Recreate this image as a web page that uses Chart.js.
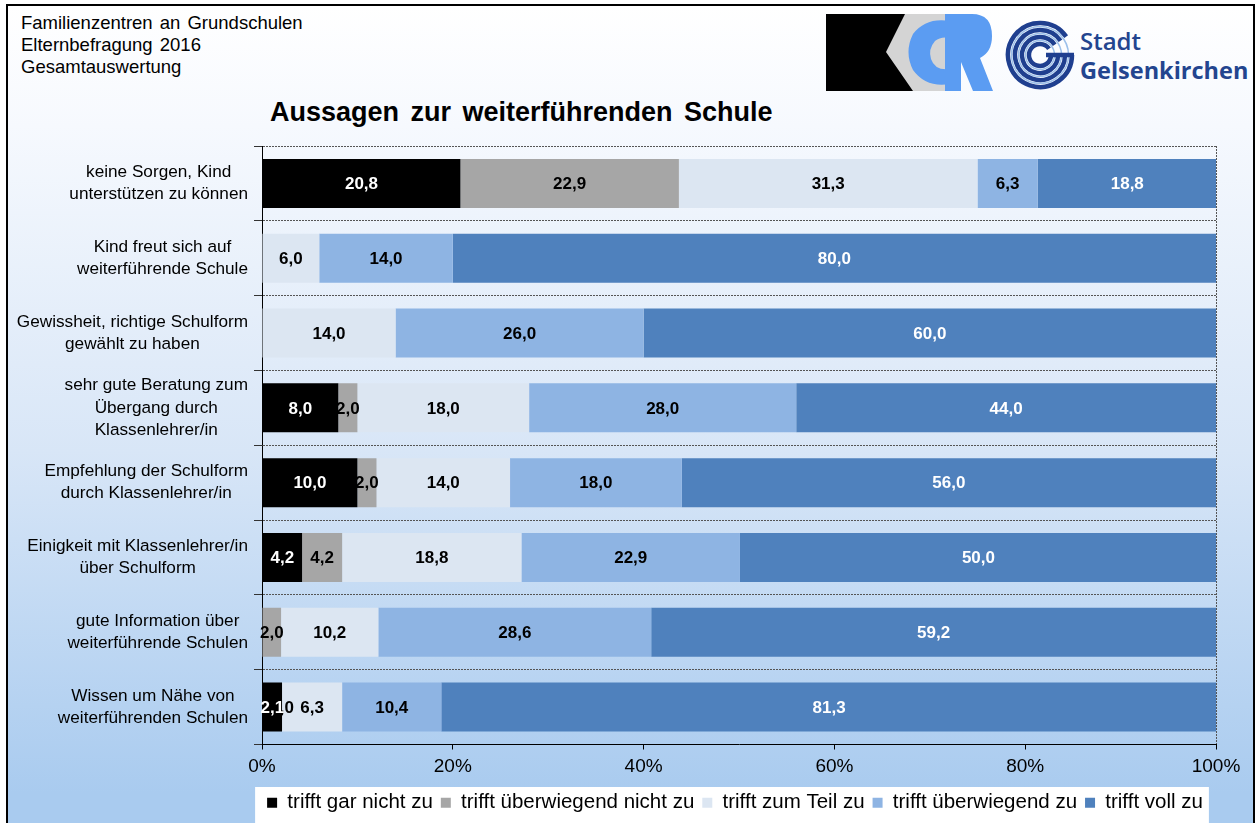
<!DOCTYPE html>
<html>
<head>
<meta charset="utf-8">
<script src="https://cdn.jsdelivr.net/npm/chart.js@4.4.1/dist/chart.umd.min.js"></script>
<style>
  html, body { margin: 0; padding: 0; background: #fff; }
  #page { position: relative; width: 1257px; height: 823px; overflow: hidden; font-family: "Liberation Sans", Arial, sans-serif; }
  #frame {
    position: absolute; left: 6px; top: 4px; width: 1249px; height: 860px; box-sizing: border-box;
    border: 2px solid #000;
    background: linear-gradient(to bottom, #ffffff 0%, #f6f9fe 14%, #d8e6f7 52%, #a9cbef 92%, #a9cbef 100%);
  }
  #head { position: absolute; left: 21px; top: 12px; font-size: 18.5px; line-height: 22px; word-spacing: 2px; color: #000; }
  #title { position: absolute; left: 270px; top: 97px; font-size: 27px; font-weight: bold; word-spacing: 4px; color: #000; }
  #logos { position: absolute; left: 0; top: 0; }
  #chart { position: absolute; left: 0; top: 0; }
</style>
</head>
<body>
<div id="page">
  <div id="frame"></div>
  <div id="head">Familienzentren an Grundschulen<br>Elternbefragung 2016<br>Gesamtauswertung</div>
  <div id="title">Aussagen zur weiterführenden Schule</div>
  <svg id="logos" width="1257" height="823">
    <!-- KCR -->
    <rect x="886" y="14" width="66" height="77" fill="#d4d4d4"/>
    <path d="M826,14 L905,14 L886,52 L913,91 L826,91 Z" fill="#000"/>
    <path d="M950,21 Q926,17 913,34 Q904,52 913,70 Q926,88 950,84 L950,69 Q935,71 931,59 Q928,49 935,41 Q941,36 950,38 Z" fill="#5b9cf2"/>
    <path d="M945,14 L972,14 Q992,14 992,36 Q992,52 980,58 L993,91 L973,91 L961,62 L961,91 L945,91 Z" fill="#5b9cf2"/>
    <!-- Gelsenkirchen -->
    <g fill="none">
      <path d="M1066.2,36.6 A32,32 0 1 0 1072,55" stroke="#1f3f8f" stroke-width="4.5"/>
      <path d="M1060.5,40.7 A25,25 0 1 0 1065,55" stroke="#1f3f8f" stroke-width="4.5"/>
      <path d="M1054.7,44.7 A18,18 0 1 0 1058,55" stroke="#1f3f8f" stroke-width="4.5"/>
      <path d="M1049,48.7 A11,11 0 1 0 1051,55" stroke="#1f3f8f" stroke-width="4.5"/>
      <circle cx="1040" cy="55" r="28.5" stroke="#9cc0ea" stroke-width="1.5"/>
      <circle cx="1040" cy="55" r="21.5" stroke="#9cc0ea" stroke-width="1.5"/>
      <circle cx="1040" cy="55" r="14.5" stroke="#9cc0ea" stroke-width="1.5"/>
      <path d="M1046,55 L1074,55" stroke="#1f3f8f" stroke-width="4.5"/>
    </g>
    <text x="1080" y="50" font-family="Open Sans" font-weight="600" font-size="24" fill="#23458f">Stadt</text>
    <text x="1080" y="79" font-family="Open Sans" font-weight="700" font-size="23.5" fill="#23458f">Gelsenkirchen</text>
  </svg>
  <canvas id="chart" width="1257" height="823"></canvas>
</div>
<script>
const categories = [
  ['keine Sorgen, Kind', 'unterstützen zu können'],
  ['Kind freut sich auf', 'weiterführende Schule'],
  ['Gewissheit, richtige Schulform', 'gewählt zu haben'],
  ['sehr gute Beratung zum', 'Übergang durch', 'Klassenlehrer/in'],
  ['Empfehlung der Schulform', 'durch Klassenlehrer/in'],
  ['Einigkeit mit Klassenlehrer/in', 'über Schulform'],
  ['gute Information über', 'weiterführende Schulen'],
  ['Wissen um Nähe von', 'weiterführenden Schulen']
];
const seriesNames = ['trifft gar nicht zu', 'trifft überwiegend nicht zu', 'trifft zum Teil zu', 'trifft überwiegend zu', 'trifft voll zu'];
const garNicht   = [20.8, null, null, 8.0, 10.0, 4.2, null, 2.1];
const ueberwNicht = [22.9, null, null, 2.0, 2.0, 4.2, 2.0, 0.0];
const zumTeil    = [31.3, 6.0, 14.0, 18.0, 14.0, 18.8, 10.2, 6.3];
const ueberwiegend = [6.3, 14.0, 26.0, 28.0, 18.0, 22.9, 28.6, 10.4];
const vollZu     = [18.8, 80.0, 60.0, 44.0, 56.0, 50.0, 59.2, 81.3];
const xTicks = [0, 20, 40, 60, 80, 100];

const colors = ['#000000', '#a6a6a6', '#dce6f2', '#8eb4e3', '#4f81bd'];
const labelColors = ['#ffffff', '#000000', '#000000', '#000000', '#ffffff'];
const FONT = '"Liberation Sans", Arial, sans-serif';

// white legend box, value labels and category labels (centred blocks, right aligned to the axis)
const labelPlugin = {
  id: 'labels',
  beforeDraw(chart) {
    const hb = chart.legend.legendHitBoxes;
    if (!hb || !hb.length) return;
    const ctx = chart.ctx;
    const l = Math.min(...hb.map(b => b.left)) - 12;
    const r = Math.max(...hb.map(b => b.left + b.width)) + 6;
    ctx.save();
    ctx.fillStyle = '#fff';
    ctx.fillRect(l, 787, r - l, 40);
    ctx.restore();
  },
  afterDatasetsDraw(chart) {
    const ctx = chart.ctx;
    ctx.save();
    ctx.font = 'bold 17px ' + FONT;
    ctx.textAlign = 'center';
    ctx.textBaseline = 'middle';
    for (let d = chart.data.datasets.length - 1; d >= 0; d--) {
      const meta = chart.getDatasetMeta(d);
      meta.data.forEach((bar, i) => {
        const v = chart.data.datasets[d].data[i];
        if (v === null) return;
        ctx.fillStyle = labelColors[d];
        ctx.fillText(v.toFixed(1).replace('.', ','), (bar.x + bar.base) / 2, bar.y + 1);
      });
    }
    const y = chart.scales.y;
    ctx.font = '17.2px ' + FONT;
    ctx.fillStyle = '#000';
    const right = y.left - 6;
    chart.data.labels.forEach((lines, i) => {
      const cy = y.getPixelForValue(i);
      const w = Math.max(...lines.map(s => ctx.measureText(s).width));
      const cx = right - w / 2;
      const lh = lines.length > 2 ? 22.5 : 22;
      lines.forEach((s, k) => {
        ctx.fillText(s, cx, cy + (k - (lines.length - 1) / 2) * lh);
      });
    });
    ctx.restore();
  }
};

new Chart(document.getElementById('chart'), {
  type: 'bar',
  data: {
    labels: categories,
    datasets: [garNicht, ueberwNicht, zumTeil, ueberwiegend, vollZu].map((data, i) => ({
      label: seriesNames[i],
      data,
      backgroundColor: colors[i],
      borderWidth: 0,
      barPercentage: 0.655,
      categoryPercentage: 1
    }))
  },
  options: {
    indexAxis: 'y',
    responsive: false,
    animation: false,
    layout: { padding: { left: 254, right: 41, top: 146, bottom: 0 } },
    plugins: {
      legend: {
        position: 'bottom',
        labels: { boxWidth: 10, boxHeight: 10, padding: 8, color: '#000', font: { family: FONT, size: 20.5 } }
      },
      tooltip: { enabled: false }
    },
    scales: {
      x: {
        stacked: true,
        min: 0, max: 100,
        afterBuildTicks: s => { s.ticks = xTicks.map(v => ({ value: v })); },
        afterFit: s => { s.height = 40; },
        ticks: { color: '#000', font: { family: FONT, size: 19 }, padding: 6, callback: v => v + '%' },
        grid: {
          color: c => (c.tick && c.tick.value === 100) ? '#555' : 'rgba(0,0,0,0)',
          tickColor: '#000', tickLength: 5
        },
        border: { color: '#000', width: 1, dash: [2, 1] }
      },
      y: {
        stacked: true,
        afterFit: s => { s.width = 8; },
        ticks: { display: false },
        grid: { color: '#555', tickColor: '#333', tickLength: 8, offset: true },
        border: { color: '#000', width: 1, dash: [2, 1] }
      }
    }
  },
  plugins: [labelPlugin]
});
</script>
</body>
</html>
